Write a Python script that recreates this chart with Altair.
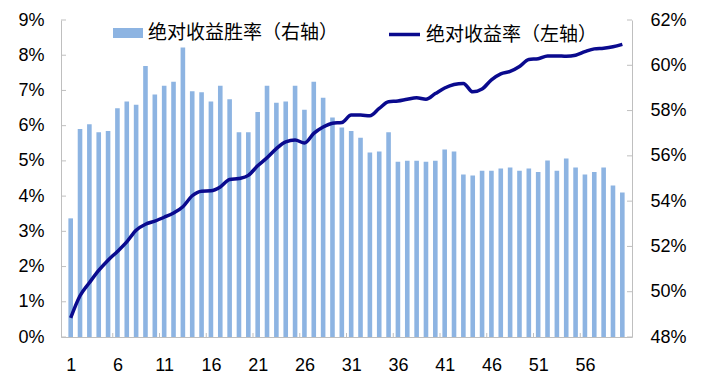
import altair as alt
import pandas as pd

# Holding period (days)
periods = list(range(1, 61))

# 绝对收益胜率（右轴）, %
win_rate = [53.24, 57.19, 57.40, 57.04, 57.10, 58.10, 58.40, 58.26, 59.97, 58.71,
            59.10, 59.27, 60.78, 58.85, 58.81, 58.40, 59.10, 58.50, 57.04, 57.04,
            57.94, 59.10, 58.35, 58.40, 59.10, 58.04, 59.27, 58.57, 57.69, 57.25,
            57.10, 56.80, 56.15, 56.19, 57.04, 55.74, 55.78, 55.78, 55.74, 55.78,
            56.28, 56.19, 55.18, 55.13, 55.34, 55.34, 55.44, 55.49, 55.34, 55.44,
            55.29, 55.79, 55.34, 55.88, 55.49, 55.18, 55.29, 55.49, 54.69, 54.38]

# 绝对收益率（左轴）, %
abs_return = [0.54, 1.17, 1.54, 1.89, 2.18, 2.43, 2.70, 3.03, 3.20, 3.29,
              3.40, 3.52, 3.70, 4.01, 4.14, 4.15, 4.26, 4.47, 4.50, 4.59,
              4.86, 5.09, 5.35, 5.54, 5.59, 5.51, 5.78, 5.96, 6.07, 6.09,
              6.30, 6.30, 6.28, 6.49, 6.68, 6.70, 6.75, 6.79, 6.75, 6.91,
              7.07, 7.17, 7.20, 6.96, 7.04, 7.30, 7.47, 7.54, 7.68, 7.88,
              7.90, 7.98, 7.98, 7.97, 8.00, 8.10, 8.18, 8.20, 8.24, 8.31]

x_labels = [1, 6, 11, 16, 21, 26, 31, 36, 41, 46, 51, 56]
x_tick_marks = [5.5, 10.5, 15.5, 20.5, 25.5, 30.5, 35.5, 40.5, 45.5, 50.5, 55.5]
left_ticks = [0, 1, 2, 3, 4, 5, 6, 7, 8, 9]
right_ticks = [48, 50, 52, 54, 56, 58, 60, 62]

bar_name = "绝对收益胜率（右轴）"
line_name = "绝对收益率（左轴）"

df = pd.DataFrame({"k": periods, "win": win_rate, "ret": abs_return,
                   "s1": bar_name, "s2": line_name})
df_xt = pd.DataFrame({"k": x_tick_marks})
df_lt = pd.DataFrame({"ret": left_ticks})
df_rt = pd.DataFrame({"win": right_ticks})

W, H = 571, 317
AXIS_GREY = "#bfbfbf"
NUM_FONT = "Liberation Sans"
CJK_FONT = "Noto Sans CJK SC"

x_enc = alt.X(
    "k:Q",
    scale=alt.Scale(domain=[0.5, 60.5], nice=False, zero=False),
    axis=alt.Axis(values=x_labels, ticks=False, grid=False, title=None,
                  domainColor=AXIS_GREY, labelFontSize=18, labelFont=NUM_FONT,
                  labelColor="black", labelPadding=19, labelFlush=False),
)

y_right = alt.Y(
    "win:Q",
    scale=alt.Scale(domain=[48, 62], nice=False, zero=False),
    axis=alt.Axis(orient="right", values=right_ticks, ticks=False, grid=False,
                  title=None, domainColor=AXIS_GREY, labelFontSize=18,
                  labelFont=NUM_FONT, labelColor="black", labelPadding=18,
                  labelExpr="datum.value + '%'"),
)

y_left = alt.Y(
    "ret:Q",
    scale=alt.Scale(domain=[0, 9], nice=False, zero=True),
    axis=alt.Axis(orient="left", values=left_ticks, ticks=False, grid=False,
                  title=None, domainColor=AXIS_GREY, labelFontSize=18,
                  labelFont=NUM_FONT, labelColor="black", labelPadding=17,
                  labelExpr="datum.value + '%'"),
)

bars = alt.Chart(df).mark_bar(size=4.6).encode(
    x=x_enc,
    y=y_right,
    y2=alt.datum(48),
    fill=alt.Fill(
        "s1:N",
        scale=alt.Scale(range=["#8DB4E2"]),
        legend=alt.Legend(orient="none", legendX=57, legendY=3, title=None,
                          symbolType="M-1.5,-0.5H1.5V0.5H-1.5Z", symbolSize=400,
                          symbolStrokeWidth=0, labelFontSize=19, labelFont=CJK_FONT,
                          labelColor="black", labelOffset=10, padding=0),
    ),
)

rticks = alt.Chart(df_rt).mark_rule(color=AXIS_GREY, strokeWidth=1).encode(
    y=y_right, x=alt.value(W - 5), x2=alt.value(W)
)

line = alt.Chart(df).mark_line(strokeWidth=3.5, interpolate="monotone").encode(
    x=x_enc,
    y=y_left,
    stroke=alt.Stroke(
        "s2:N",
        scale=alt.Scale(range=["#0A0A8E"]),
        legend=alt.Legend(orient="none", legendX=326, legendY=-3, title=None,
                          symbolType="stroke", symbolSize=961, symbolStrokeWidth=3.5,
                          labelFontSize=19, labelFont=CJK_FONT, labelColor="black",
                          labelOffset=4, padding=0),
    ),
)

lticks = alt.Chart(df_lt).mark_rule(color=AXIS_GREY, strokeWidth=1).encode(
    y=y_left, x=alt.value(0), x2=alt.value(5)
)

xticks = alt.Chart(df_xt).mark_rule(color=AXIS_GREY, strokeWidth=1).encode(
    x=x_enc, y=alt.value(H - 4), y2=alt.value(H)
)

chart = alt.layer(
    alt.layer(bars, rticks),
    alt.layer(line, lticks, xticks),
).resolve_scale(
    y="independent", fill="independent", stroke="independent"
).properties(
    width=W, height=H,
    padding={"left": 53, "top": 12, "right": 65, "bottom": 39},
    autosize=alt.AutoSizeParams(type="none"),
).configure_view(stroke=None).configure_legend(labelLimit=400)

chart.save("out.html", embed_options={"renderer": "svg", "actions": False})
